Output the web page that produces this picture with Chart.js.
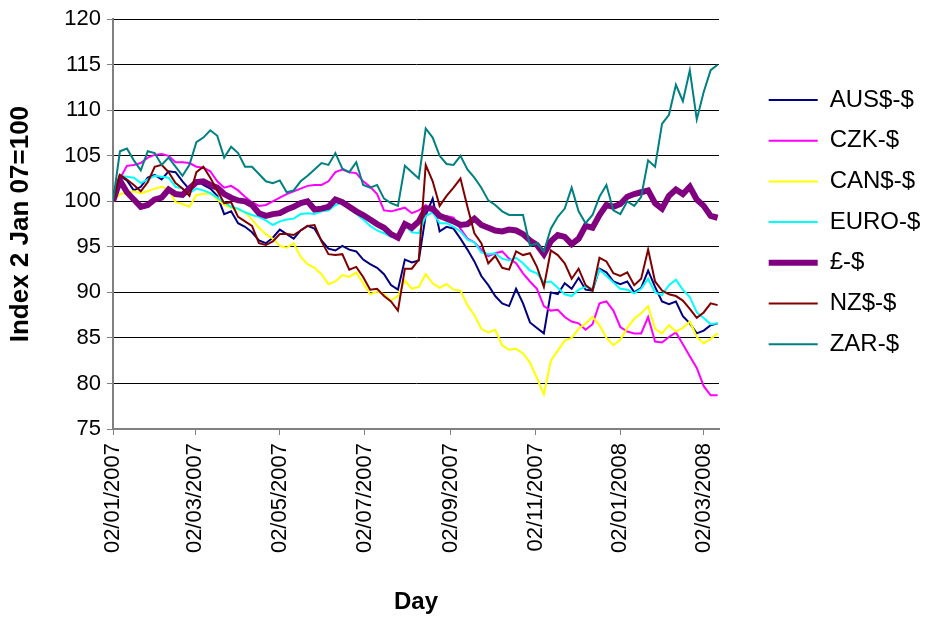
<!DOCTYPE html>
<html>
<head>
<meta charset="utf-8">
<script src="https://cdn.jsdelivr.net/npm/chart.js@4.4.1/dist/chart.umd.min.js"></script>
<style>
  html, body { margin: 0; padding: 0; background: #fff; }
  #wrap { width: 925px; height: 619px; }
</style>
</head>
<body>
<div id="wrap"><canvas id="fxChart" width="925" height="619"></canvas></div>
<script>
// days counted from 2 Jan 2007
const days = [0, 5, 10, 15, 20, 25, 30, 35, 40, 45, 50, 55, 60, 65, 70, 75, 80, 85, 90, 95,
  100, 105, 110, 115, 120, 125, 130, 135, 140, 145, 150, 155, 160, 165, 170, 175, 180, 185, 190, 195,
  200, 205, 210, 215, 220, 225, 230, 235, 240, 245, 250, 255, 260, 265, 270, 275, 280, 285, 290, 295,
  300, 305, 310, 315, 320, 325, 330, 335, 340, 345, 350, 355, 360, 365, 370, 375, 380, 385, 390, 395,
  400, 405, 410, 415, 420, 425, 430, 435];

const tickDays = [0, 59, 120, 181, 243, 304, 365, 425];
const tickLabels = ['02/01/2007', '02/03/2007', '02/05/2007', '02/07/2007',
  '02/09/2007', '02/11/2007', '02/01/2008', '02/03/2008'];

const seriesNames = ['AUS$-$', 'CZK-$', 'CAN$-$', 'EURO-$', '£-$', 'NZ$-$', 'ZAR-$'];

const aud = [100, 102.8, 102.3, 101.2, 101.6, 102.6, 102.9, 102.4, 103.3, 103.2,
  102.2, 101.3, 102.3, 101.8, 101.4, 100.6, 98.6, 98.9, 97.6, 97.2,
  96.6, 95.7, 95.4, 96.0, 96.9, 96.4, 95.9, 96.8, 97.3, 97.0,
  95.7, 94.8, 94.6, 95.1, 94.7, 94.5, 93.6, 93.1, 92.7, 92.0,
  90.8, 90.3, 93.6, 93.3, 93.5, 98.5, 100.3, 96.7, 97.2, 97.0,
  95.9, 94.7, 93.4, 91.8, 90.8, 89.6, 88.8, 88.5, 90.4, 88.8,
  86.7, 86.1, 85.5, 90.0, 89.8, 91.0, 90.4, 91.6, 90.3, 90.2,
  92.6, 92.2, 91.2, 90.9, 91.2, 90.0, 90.5, 92.4, 90.6, 89.0,
  88.7, 89.0, 87.4, 86.6, 85.5, 85.8, 86.4, 86.6];

const czk = [100, 102.5, 103.9, 104, 104.2, 104.8, 105.1, 105.2, 105, 104.3,
  104.3, 104.2, 103.8, 103.7, 103.3, 102.2, 101.5, 101.7, 101.2, 100.5,
  99.9, 99.5, 99.6, 100, 100.4, 100.8, 101.1, 101.4, 101.7, 101.8,
  101.8, 102.2, 103.2, 103.5, 103.2, 103.1, 102.2, 101.6, 100.8, 99.0,
  98.9, 99.1, 99.3, 98.7, 99.0, 99.6, 98.8, 98.3, 98.4, 98.2,
  97.0, 95.9, 95.5, 94.7, 94.0, 94.3, 94.5, 93.7, 93.2, 92.1,
  91.2, 90.4, 88.5, 88.0, 88.1, 87.3, 86.8, 86.6, 85.9, 86.5,
  88.8, 89.0, 88.0, 86.2, 85.7, 85.5, 85.5, 87.3, 84.6, 84.5,
  85.1, 85.6, 84.3, 83.0, 81.7, 79.7, 78.7, 78.7];

const cad = [100, 100.8, 100.9, 101.1, 100.9, 101.1, 101.4, 101.6, 101.3, 99.9,
  99.7, 99.4, 100.7, 100.8, 100.9, 100.2, 99.6, 99.3, 99.1, 98.8,
  98.0, 97.1, 96.4, 95.9, 95.1, 94.9, 95.4, 93.9, 93.1, 92.7,
  92.0, 90.9, 91.2, 91.9, 91.7, 92.2, 91.0, 89.8, 90.1, 89.8,
  89.1, 89.6, 91.3, 90.4, 90.6, 92.0, 91.0, 90.5, 90.9, 90.3,
  90.2, 88.6, 87.5, 86.0, 85.6, 85.9, 84.2, 83.7, 83.8, 83.3,
  82.3, 80.6, 78.8, 82.5, 83.6, 84.7, 85.0, 86.0, 86.6, 87.3,
  86.4, 85.0, 84.2, 84.8, 86.1, 87.1, 87.7, 88.5, 86.0, 85.5,
  86.4, 85.7, 86.1, 86.8, 85.1, 84.4, 84.9, 85.5];

const eur = [100, 102.8, 102.7, 102.6, 102.0, 102.4, 102.8, 102.7, 102.6, 101.6,
  101.4, 100.9, 101.4, 101.2, 100.9, 100.4, 99.9, 99.4, 99.2, 98.8,
  98.5, 98.3, 97.9, 97.4, 97.8, 98.0, 98.1, 98.6, 98.7, 98.6,
  98.9, 99.0, 99.6, 99.9, 99.2, 98.6, 98.0, 97.3, 96.8, 96.5,
  96.1, 96.2, 97.4, 96.6, 96.5, 98.4, 98.8, 97.6, 97.6, 97.2,
  96.7, 95.8, 95.5, 94.4, 94.2, 94.3, 93.7, 93.5, 93.8, 93.2,
  92.4, 92.1, 91.1, 91.2, 90.5, 89.8, 89.6, 90.3, 90.6, 90.4,
  92.5, 91.8, 91.1, 90.4, 90.3, 89.9, 90.4, 91.5, 90.0, 89.7,
  90.8, 91.4, 90.3, 89.5, 87.8, 87.2, 86.5, 86.6];

const gbp = [100, 102.3, 101.0, 100.2, 99.4, 99.6, 100.2, 100.4, 101.3, 100.8,
  100.7, 101.4, 102.1, 102.2, 101.8, 101.5, 100.8, 100.4, 100.1, 100.0,
  99.6, 98.7, 98.4, 98.6, 98.7, 99.1, 99.4, 99.8, 100.0, 99.1,
  99.2, 99.4, 100.2, 99.9, 99.4, 98.9, 98.5, 98.0, 97.5, 97.1,
  96.4, 96.0, 97.5, 97.1, 97.8, 99.2, 99.2, 98.4, 98.1, 97.8,
  97.4, 97.5, 98.1, 97.4, 97.1, 96.8, 96.7, 96.9, 96.8, 96.4,
  95.7, 95.2, 94.2, 95.6, 96.3, 96.1, 95.3, 95.9, 97.3, 97.1,
  98.5, 99.6, 99.4, 99.7, 100.5, 100.8, 101.0, 101.2, 99.8, 99.2,
  100.6, 101.3, 100.8, 101.6, 100.2, 99.5, 98.4, 98.2];

const nzd = [100, 102.9, 102.4, 101.8, 101.1, 102.1, 103.8, 104.0, 103.2, 102.0,
  101.4, 100.6, 103.2, 103.8, 102.6, 101.2, 99.8, 99.9, 98.3, 97.8,
  97.3, 95.4, 95.2, 95.6, 96.4, 96.4, 96.3, 96.8, 97.3, 97.4,
  95.6, 94.2, 94.1, 94.2, 92.5, 92.8, 91.7, 90.3, 90.4, 89.6,
  89.0, 88.0, 92.6, 92.6, 93.6, 104.0, 102.2, 99.5, 100.6, 101.5,
  102.5, 99.4, 96.5, 95.4, 93.2, 94.0, 92.7, 92.5, 94.5, 94.1,
  94.3, 92.8, 90.6, 94.6, 94.1, 93.2, 91.5, 92.6, 90.8, 90.2,
  93.8, 93.4, 92.1, 91.8, 92.2, 90.8, 91.5, 94.7, 91.2, 90.2,
  89.8, 89.6, 89.1, 88.2, 87.2, 87.8, 88.8, 88.6];

const zar = [100, 105.5, 105.8, 104.5, 103.4, 105.5, 105.3, 104.0, 104.8, 103.8,
  102.8, 104.0, 106.5, 107.0, 107.8, 107.2, 104.8, 106.0, 105.3, 103.8,
  103.8, 103.0, 102.2, 102.0, 102.3, 101.0, 101.2, 102.2, 102.8, 103.5,
  104.2, 104.0, 105.3, 103.6, 103.2, 104.3, 101.8, 101.5, 101.8, 100.3,
  99.8, 99.5, 103.9, 103.2, 102.5, 108.0, 107.0, 105.0, 104.1, 104.0,
  105.0, 103.5, 102.6, 101.5, 100.1, 99.6, 98.9, 98.5, 98.5, 98.5,
  95.1, 95.4, 94.5, 97.0, 98.3, 99.2, 101.5, 98.9, 97.6, 98.5,
  100.5, 101.8, 99.0, 98.6, 100.0, 99.5, 100.5, 104.5, 103.8, 108.5,
  109.5, 112.8, 111.0, 114.4, 109.0, 112.0, 114.4, 115.0];

const seriesData = [aud, czk, cad, eur, gbp, nzd, zar];
const seriesColors = ['#000080', '#ff00ff', '#ffff00', '#00ffff', '#800080', '#800000', '#008080'];
const seriesWidths = [2, 2, 2, 2, 6, 2, 2];

Chart.defaults.font.family = "'Liberation Sans', Arial, sans-serif";
Chart.defaults.color = '#000';

// legend sits a bit away from the plot, like the Excel original
const legendPlacer = {
  id: 'legendPlacer',
  afterLayout(chart) {
    const lg = chart.legend;
    const w = lg.width, h = lg.height;
    lg.left = 752;
    lg.right = lg.left + w;
    lg.top = 71.3;
    lg.bottom = lg.top + h;
  }
};

const datasets = seriesNames.map((name, i) => ({
  label: name,
  data: seriesData[i],
  borderColor: seriesColors[i],
  backgroundColor: seriesColors[i],
  borderWidth: seriesWidths[i],
  pointBorderWidth: seriesWidths[i],
  pointRadius: 0,
  pointHoverRadius: 0,
  tension: 0,
  fill: false,
  order: seriesNames.length - i // later series drawn on top
}));

new Chart(document.getElementById('fxChart'), {
  type: 'line',
  data: { labels: days, datasets },
  options: {
    responsive: false,
    animation: false,
    layout: { padding: { top: 19, left: 0, right: 0, bottom: 0 } },
    plugins: {
      legend: {
        position: 'right',
        align: 'start',
        labels: {
          usePointStyle: true,
          pointStyle: 'line',
          pointStyleWidth: 49,
          boxHeight: 24,
          padding: 16.7,
          font: { size: 24 },
          color: '#000',
          sort: (a, b) => a.datasetIndex - b.datasetIndex
        }
      },
      tooltip: { enabled: false }
    },
    scales: {
      x: {
        type: 'linear',
        min: 0,
        max: 436,
        afterBuildTicks: s => { s.ticks = tickDays.map(v => ({ value: v })); },
        afterFit: s => { s.height = 190; s.paddingRight = 206; },
        ticks: {
          autoSkip: false,
          minRotation: 90,
          maxRotation: 90,
          padding: 8,
          font: { size: 22 },
          callback: v => tickLabels[tickDays.indexOf(v)]
        },
        grid: { drawOnChartArea: false, drawTicks: true, tickLength: 6, color: '#808080' },
        border: { color: '#808080', width: 2 },
        title: {
          display: true,
          text: 'Day',
          font: { size: 24, weight: 'bold' },
          padding: { top: 0, bottom: 2 }
        }
      },
      y: {
        min: 75,
        max: 120,
        afterFit: s => { s.width = 113; },
        ticks: { stepSize: 5, padding: 6, font: { size: 22 } },
        grid: { color: '#000', lineWidth: 1, drawTicks: true, tickLength: 6, tickColor: '#808080' },
        border: { color: '#808080', width: 2 },
        title: {
          display: true,
          text: 'Index 2 Jan 07=100',
          font: { size: 26, weight: 'bold' },
          padding: { top: 5, bottom: 0 }
        }
      }
    }
  },
  plugins: [legendPlacer]
});
</script>
</body>
</html>
